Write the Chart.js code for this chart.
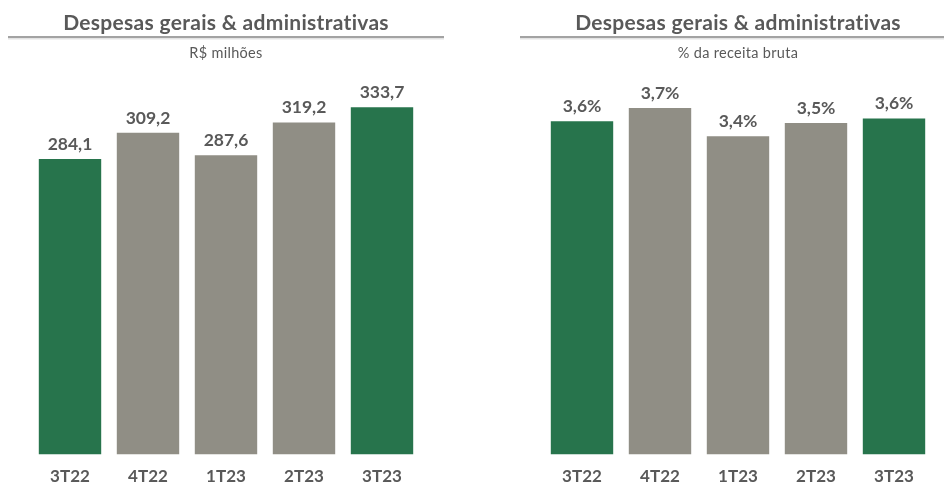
<!DOCTYPE html>
<html lang="pt">
<head>
<meta charset="UTF-8">
<title>Despesas gerais & administrativas</title>
<script src="https://cdn.jsdelivr.net/npm/chart.js"></script>
<style>
  body { margin: 0; background: #fff; }
  .wrap { display: flex; width: 944px; height: 485px; }
  .box { position: relative; width: 472px; height: 485px; }
</style>
</head>
<body>
<div class="wrap">
  <div class="box"><canvas id="chartReais"></canvas></div>
  <div class="box"><canvas id="chartPerc"></canvas></div>
</div>

<script>
// dados
var trimestres = ['3T22', '4T22', '1T23', '2T23', '3T23'];
var despesasReais = [284.1, 309.2, 287.6, 319.2, 333.7];
var despesasPerc = [3.56, 3.70, 3.40, 3.54, 3.59];
var titulo = 'Despesas gerais & administrativas';
var subtituloReais = 'R$ milhões';
var subtituloPerc = '% da receita bruta';

var verde = '#27744c';
var cinza = '#908e85';
var corTexto = '#595959';
var fonte = 'Lato, "Open Sans", sans-serif';
var cores = ['verde', 'cinza', 'cinza', 'cinza', 'verde'].map(function (c) {
    return c === 'verde' ? verde : cinza;
});

// titulo, subtitulo e linha
var cabecalho = {
    id: 'cabecalho',
    afterDraw: function (chart, args, opts) {
        var ctx = chart.ctx;
        var cx = (chart.chartArea.left + chart.chartArea.right) / 2;
        ctx.save();
        ctx.fillStyle = corTexto;
        ctx.textAlign = 'center';
        ctx.textBaseline = 'middle';
        ctx.letterSpacing = '0.3px';
        ctx.font = 'bold 21px ' + fonte;
        ctx.fillText(titulo, cx, 23);
        ctx.font = '14.5px ' + fonte;
        ctx.fillText(opts.subtitulo, cx, 53);
        ctx.strokeStyle = '#e3e3e3';
        ctx.lineWidth = 2;
        ctx.beginPath();
        ctx.moveTo(opts.linha[0], 38.5);
        ctx.lineTo(opts.linha[1], 38.5);
        ctx.stroke();
        ctx.strokeStyle = '#a3a3a3';
        ctx.lineWidth = 2;
        ctx.beginPath();
        ctx.moveTo(opts.linha[0], 37);
        ctx.lineTo(opts.linha[1], 37);
        ctx.stroke();
        ctx.restore();
    }
};

// rotulos de valor
var rotulos = {
    id: 'rotulos',
    afterDatasetsDraw: function (chart, args, opts) {
        var ctx = chart.ctx;
        var meta = chart.getDatasetMeta(0);
        var dados = chart.data.datasets[0].data;
        ctx.save();
        ctx.fillStyle = corTexto;
        ctx.textAlign = 'center';
        ctx.textBaseline = 'middle';
        ctx.font = 'bold 17.5px ' + fonte;
        meta.data.forEach(function (bar, i) {
            ctx.fillText(opts.formato(dados[i]), bar.x, bar.y - 15);
        });
        ctx.restore();
    }
};

function criarGrafico(id, valores, maximo, subtitulo, padding, linha, formato) {
    var ctx = document.getElementById(id).getContext('2d');
    return new Chart(ctx, {
        type: 'bar',
        data: {
            labels: trimestres,
            datasets: [{
                data: valores,
                backgroundColor: cores,
                borderWidth: 0,
                categoryPercentage: 1,
                barPercentage: 0.8
            }]
        },
        options: {
            responsive: true,
            maintainAspectRatio: false,
            animation: false,
            layout: { padding: { top: 80, bottom: -14, left: padding[0], right: padding[1] } },
            plugins: {
                legend: { display: false },
                tooltip: { enabled: false },
                cabecalho: { subtitulo: subtitulo, linha: linha },
                rotulos: { formato: formato }
            },
            scales: {
                x: {
                    grid: { display: false, drawTicks: false },
                    border: { display: false },
                    ticks: { color: corTexto, padding: 12, font: { family: fonte, size: 17, weight: 'bold' } }
                },
                y: {
                    display: false,
                    min: 0,
                    max: maximo
                }
            }
        },
        plugins: [cabecalho, rotulos]
    });
}

criarGrafico('chartReais', despesasReais, 360, subtituloReais, [31, 51], [8, 444], function (v) {
    return v.toFixed(1).replace('.', ',');
});
criarGrafico('chartPerc', despesasPerc, 4, subtituloPerc, [71, 11], [48, 472], function (v) {
    return v.toFixed(1).replace('.', ',') + '%';
});
</script>
</body>
</html>
